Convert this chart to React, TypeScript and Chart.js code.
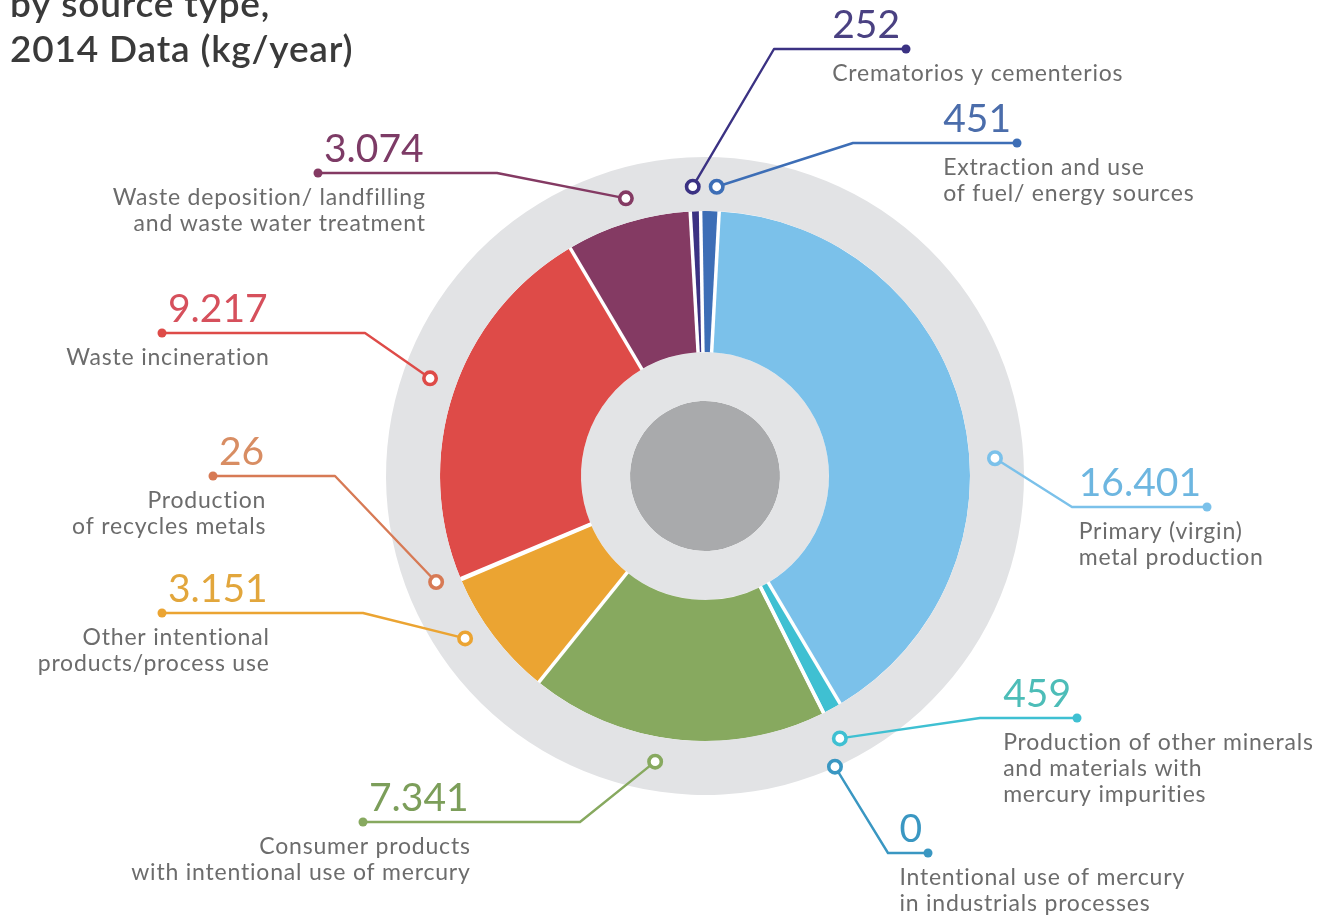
import React, { useEffect, useRef } from "react";
import { Chart, registerables } from "chart.js";

Chart.register(...registerables);

// ---- data ----
const TITLE_LINES = ["by source type,", "2014 Data (kg/year)"];

const CATEGORIES: string[][] = [
  ["Crematorios y cementerios"],
  ["Extraction and use", "of fuel/ energy sources"],
  ["Primary (virgin)", "metal production"],
  ["Production of other minerals", "and materials with", "mercury impurities"],
  ["Intentional use of mercury", "in industrials processes"],
  ["Consumer products", "with intentional use of mercury"],
  ["Other intentional", "products/process use"],
  ["Production", "of recycles metals"],
  ["Waste incineration"],
  ["Waste deposition/ landfilling", "and waste water treatment"],
];

const VALUES = [252, 451, 16401, 459, 0, 7341, 3151, 26, 9217, 3074];

const VALUE_LABELS = ["252", "451", "16.401", "459", "0", "7.341", "3.151", "26", "9.217", "3.074"];

const COLORS = [
  "#3b3283",
  "#3d6eb6",
  "#7bc1ea",
  "#3fc0d2",
  "#3a97c2",
  "#87a95f",
  "#eba432",
  "#d77a55",
  "#de4b48",
  "#843a63",
];

const TEXT_COLORS = [
  "#4a4182",
  "#4b6dab",
  "#6db6e0",
  "#4dbdb8",
  "#3a97c2",
  "#7c9e5a",
  "#e2a63c",
  "#d88d63",
  "#d6505c",
  "#7d3b66",
];

const RING_GREY = "#e2e3e5";
const INNER_GREY = "#e3e4e6";
const CORE_GREY = "#a9aaac";

// ---- annotation layout (offsets from the doughnut centre, px) ----
type Layout = { side: "L" | "R"; nudge: number; r: number; elbow: [number, number]; end: [number, number] };
const LABEL_LAYOUT: Layout[] = [
  { side: "R", nudge: -0.35, r: 289.6, elbow: [69, -427], end: [201, -427] },
  { side: "R", nudge: 1.26, r: 289.5, elbow: [148, -333], end: [312, -333] },
  { side: "R", nudge: 10.3, r: 290.5, elbow: [367, 31], end: [502, 31] },
  { side: "R", nudge: 1.44, r: 295, elbow: [275, 242], end: [372, 242] },
  { side: "R", nudge: 2.5, r: 318.4, elbow: [183, 377], end: [223, 377] },
  { side: "L", nudge: 3.76, r: 290, elbow: [-125, 346], end: [-342, 346] },
  { side: "L", nudge: 2.98, r: 289.7, elbow: [-342, 137], end: [-543, 137] },
  { side: "L", nudge: 1.4, r: 289, elbow: [-370, 0], end: [-492, 0] },
  { side: "L", nudge: 1.27, r: 291.8, elbow: [-340, -143], end: [-543, -143] },
  { side: "L", nudge: 1.0, r: 288.7, elbow: [-208, -303], end: [-387, -303] },
];

const NUM_FONT = "400 39px Lato, 'Open Sans', sans-serif";
const LABEL_FONT = "400 23px Lato, 'Open Sans', sans-serif";
const TITLE_FONT = "600 37px Lato, 'Open Sans', sans-serif";

const separatorPlugin = {
  id: "separators",
  afterDatasetsDraw(chart: any) {
    const meta = chart.getDatasetMeta(1);
    const ctx = chart.ctx;
    ctx.save();
    ctx.strokeStyle = "#ffffff";
    ctx.lineWidth = 3.5;
    meta.data.forEach((arc: any) => {
      const a = arc.startAngle;
      ctx.beginPath();
      ctx.moveTo(arc.x + Math.cos(a) * (arc.innerRadius - 0.5), arc.y + Math.sin(a) * (arc.innerRadius - 0.5));
      ctx.lineTo(arc.x + Math.cos(a) * arc.outerRadius, arc.y + Math.sin(a) * arc.outerRadius);
      ctx.stroke();
    });
    ctx.restore();
  },
};

const annotationPlugin = {
  id: "annotations",
  afterDraw(chart: any) {
    const ctx = chart.ctx;
    const meta = chart.getDatasetMeta(1);
    ctx.save();

    // title
    ctx.font = TITLE_FONT;
    ctx.fillStyle = "#3a3a3a";
    ctx.textAlign = "left";
    ctx.textBaseline = "alphabetic";
    (ctx as any).letterSpacing = "0.8px";
    ctx.fillText(TITLE_LINES[0], 10, 17);
    ctx.fillText(TITLE_LINES[1], 10, 62);
    (ctx as any).letterSpacing = "0px";

    meta.data.forEach((arc: any, i: number) => {
      const lay = LABEL_LAYOUT[i];
      const cx = arc.x;
      const cy = arc.y;
      const mid = (arc.startAngle + arc.endAngle) / 2 + (lay.nudge * Math.PI) / 180;
      const mx = cx + Math.cos(mid) * lay.r;
      const my = cy + Math.sin(mid) * lay.r;
      const ex = cx + lay.elbow[0];
      const ey = cy + lay.elbow[1];
      const dx = cx + lay.end[0];
      const dy = cy + lay.end[1];
      const col = COLORS[i];

      ctx.strokeStyle = col;
      ctx.lineWidth = 2.4;
      ctx.lineJoin = "round";
      ctx.beginPath();
      ctx.moveTo(mx, my);
      ctx.lineTo(ex, ey);
      ctx.lineTo(dx, dy);
      ctx.stroke();

      // end dot
      ctx.fillStyle = col;
      ctx.beginPath();
      ctx.arc(dx, dy, 4.5, 0, Math.PI * 2);
      ctx.fill();

      // ring marker
      ctx.fillStyle = "#ffffff";
      ctx.lineWidth = 3.6;
      ctx.beginPath();
      ctx.arc(mx, my, 6.2, 0, Math.PI * 2);
      ctx.fill();
      ctx.stroke();

      // number
      ctx.font = NUM_FONT;
      (ctx as any).letterSpacing = "0px";
      const numW = ctx.measureText(VALUE_LABELS[i]).width;
      let numLeft: number;
      let textX: number;
      let align: CanvasTextAlign;
      if (lay.side === "R") {
        numLeft = dx - 6 - numW;
        textX = numLeft;
        align = "left";
      } else {
        numLeft = dx + 6;
        textX = numLeft + numW + 2;
        align = "right";
      }
      ctx.fillStyle = TEXT_COLORS[i];
      ctx.textAlign = "left";
      ctx.fillText(VALUE_LABELS[i], numLeft, dy - 11);

      ctx.font = LABEL_FONT;
      (ctx as any).letterSpacing = "0.8px";
      ctx.fillStyle = "#6c6c6c";
      ctx.textAlign = align;
      CATEGORIES[i].forEach((line, k) => {
        ctx.fillText(line, textX, dy + 32 + k * 26);
      });
      (ctx as any).letterSpacing = "0px";
    });
    ctx.restore();
  },
};

export default function App() {
  const ref = useRef<HTMLCanvasElement | null>(null);

  useEffect(() => {
    if (!ref.current) return;
    const chart = new Chart(ref.current, {
      type: "doughnut",
      data: {
        labels: CATEGORIES.map((c) => c.join(" ")),
        datasets: [
          { data: [1], backgroundColor: [RING_GREY], borderWidth: 0, weight: 54 } as any,
          { data: VALUES, backgroundColor: COLORS, borderWidth: 0, weight: 141 } as any,
          { data: [1], backgroundColor: [INNER_GREY], borderWidth: 0, weight: 49 } as any,
          { data: [1], backgroundColor: [CORE_GREY], borderWidth: 0, weight: 75 } as any,
        ],
      },
      options: {
        responsive: false,
        animation: false,
        events: [],
        rotation: -3.2,
        cutout: 0,
        radius: 319,
        layout: { padding: { left: 385, right: 299, top: 157, bottom: 122 } },
        plugins: { legend: { display: false }, tooltip: { enabled: false }, title: { display: false } },
      } as any,
      plugins: [separatorPlugin, annotationPlugin],
    });
    return () => chart.destroy();
  }, []);

  return (
    <div style={{ position: "absolute", left: 0, top: 0, width: 1324, height: 917, background: "#ffffff" }}>
      <canvas ref={ref} width={1324} height={917} style={{ display: "block", width: 1324, height: 917 }} />
    </div>
  );
}
